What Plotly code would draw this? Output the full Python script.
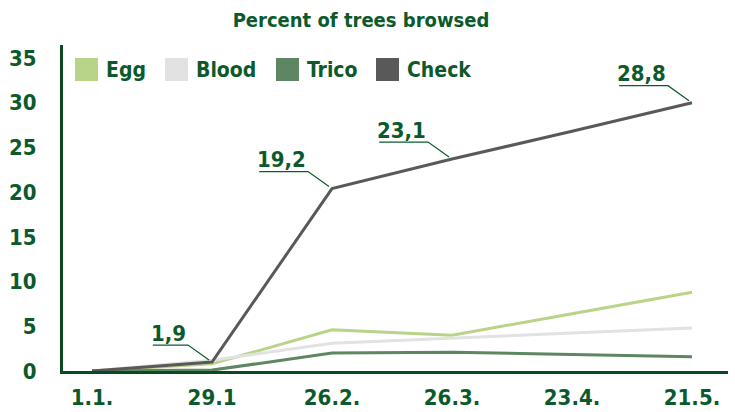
import plotly.graph_objects as go

# ---- data ----
dates = ["1.1.", "29.1", "26.2.", "26.3.", "23.4.", "21.5."]
series_names = ["Egg", "Blood", "Trico", "Check"]
egg = [0, 0.8, 4.6, 4.0, 6.4, 8.8]
blood = [0, 1.2, 3.1, 3.7, 4.25, 4.8]
trico = [0, 0.1, 2.0, 2.1, 1.85, 1.6]
check = [0, 1.0, 20.4, 23.7, 26.8, 30.0]
check_labels = [None, "1,9", "19,2", "23,1", None, "28,8"]
y_ticks = [0, 5, 10, 15, 20, 25, 30, 35]

colors = {"Egg": "#b8d488", "Blood": "#e2e2e2", "Trico": "#5e8660", "Check": "#595959"}
TXT = "#0c5a2c"
AX = "#0a4a22"
FONT = "DejaVu Sans Condensed, DejaVu Sans, sans-serif"

W, H = 735, 412
ML, MR, MT, MB = 63, 7, 45, 41
pw, ph = W - ML - MR, H - MT - MB

xidx = list(range(len(dates)))
fig = go.Figure()
for name, vals in zip(series_names, [egg, blood, trico, check]):
    fig.add_trace(go.Scatter(x=xidx, y=vals, mode="lines", name=name,
                             line=dict(color=colors[name], width=3),
                             showlegend=False, hoverinfo="skip"))

shapes = []
annotations = []
# data labels with underline + leader
for xi, (v, lab) in enumerate(zip(check, check_labels)):
    if not lab:
        continue
    tw = sum(7 if c == "," else 13.6 for c in lab)
    shapes.append(dict(type="path", xref="x", yref="y", xsizemode="pixel", ysizemode="pixel",
                       xanchor=xi, yanchor=v,
                       path=f"M {-24 - tw - 1},17 L -24,17 L -3,2",
                       line=dict(color=TXT, width=1.2)))
    annotations.append(dict(x=xi, y=v, xref="x", yref="y", text=lab, showarrow=False,
                            xanchor="right", yanchor="middle", xshift=-24, yshift=29,
                            font=dict(family=FONT, size=22, color=TXT, weight="bold")))

# manual legend (large square swatches)
def px2paper_x(px):
    return (px - ML) / pw

def px2paper_y(py):
    return (H - MB - py) / ph

leg_x = [75, 165, 276, 376]
for name, lx in zip(series_names, leg_x):
    shapes.append(dict(type="rect", xref="paper", yref="paper",
                       x0=px2paper_x(lx), x1=px2paper_x(lx + 23),
                       y0=px2paper_y(81), y1=px2paper_y(58),
                       fillcolor=colors[name], line=dict(width=0)))
    annotations.append(dict(x=px2paper_x(lx + 29), y=px2paper_y(70), xref="paper", yref="paper",
                            text=name, showarrow=False, xanchor="left", yanchor="middle",
                            font=dict(family=FONT, size=21, color=TXT, weight="bold")))

fig.update_layout(
    width=W, height=H,
    margin=dict(l=ML, r=MR, t=MT, b=MB),
    paper_bgcolor="white", plot_bgcolor="white",
    title=dict(text="Percent of trees browsed", x=361 / W, xanchor="center",
               y=1 - 20 / H, yanchor="middle",
               font=dict(family=FONT, size=20, color=TXT, weight="bold")),
    showlegend=False,
    shapes=shapes, annotations=annotations,
    xaxis=dict(range=[-0.242, 5.3], tickvals=xidx, ticktext=dates, automargin=False,
               showgrid=False, zeroline=False, showline=True, linecolor=AX, linewidth=3,
               ticks="", ticklabelstandoff=5,
               tickfont=dict(family=FONT, size=22, color=TXT, weight="bold")),
    yaxis=dict(range=[0, 36.45], tickvals=y_ticks, automargin=False,
               showgrid=False, zeroline=False, showline=True, linecolor=AX, linewidth=3,
               ticks="", ticklabelstandoff=19,
               tickfont=dict(family=FONT, size=22, color=TXT, weight="bold")),
)

fig.write_html("out.html", config={"displayModeBar": False},
               post_script="document.body.style.margin='0';document.body.style.padding='0';")
